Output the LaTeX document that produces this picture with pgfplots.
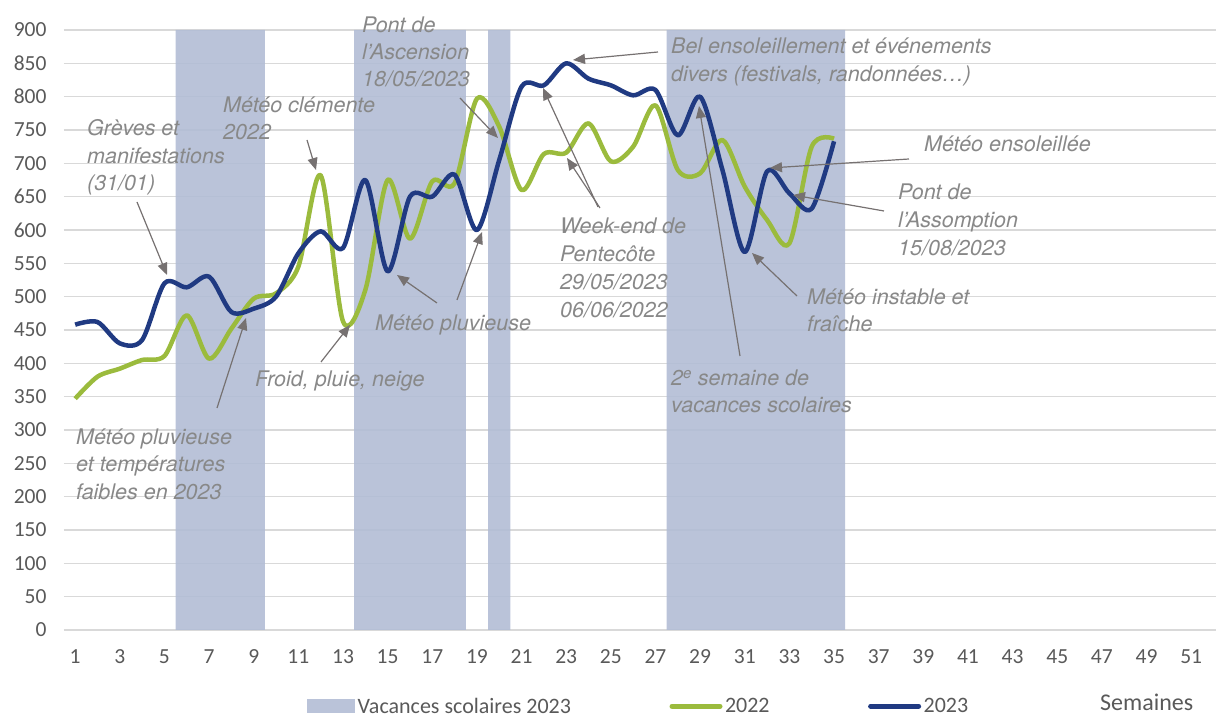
\documentclass[border=0pt]{standalone}
\usepackage{fontspec}
\setmainfont{Carlito}
\newfontfamily\annofont{TeX Gyre Heros}
\usepackage{pgfplots}
\pgfplotsset{compat=1.18}
\usetikzlibrary{arrows.meta}
\definecolor{band}{RGB}{178,189,213}
\definecolor{gr}{RGB}{155,187,61}
\definecolor{bl}{RGB}{32,58,130}
\definecolor{ann}{RGB}{136,136,136}
\definecolor{arr}{RGB}{118,113,113}
\definecolor{tickc}{RGB}{89,89,89}
\definecolor{gridc}{RGB}{217,217,217}
\begin{document}
\begin{tikzpicture}[
  anno/.style={font=\annofont\itshape\fontsize{21.5}{26}\selectfont, text=ann, inner sep=0pt, anchor=base west},
  arw/.style={draw=arr, line width=1.2pt, -{Triangle[length=12pt,width=10pt]}}]
\useasboundingbox (-64pt,-87pt) rectangle (1152pt,630pt);
\begin{axis}[
  x=22.32pt, y=0.666667pt,
  xmin=0.5, xmax=52.1, ymin=0, ymax=900,
  clip=false,
  axis line style={draw=none},
  major tick length=0pt,
  xtick={1,3,...,51},
  ytick={0,50,...,900},
  ymajorgrids, grid style={draw=gridc, line width=1.3pt},
  tick label style={font=\fontsize{21.5}{25}\selectfont, text=tickc},
  /pgf/number format/assume math mode=true,
  yticklabel style={xshift=-14pt},
  xticklabel style={yshift=-16pt},
  legend style={at={(0.211,-0.127)}, anchor=west, draw=none, fill=none, inner sep=0pt,
    font=\fontsize{22}{25}\selectfont, text=tickc, nodes={inner sep=2.5pt},
    /tikz/every even column/.append style={column sep=96pt}},
  legend columns=3,
  legend cell align=left,
]
\addplot[ybar, bar width=1, bar shift=0pt, fill=band, fill opacity=0.9, draw=none,
  legend image code/.code={\fill[band, fill opacity=0.9] (0pt,-7pt) rectangle (48pt,7pt);}]
  coordinates {(6,900)(7,900)(8,900)(9,900)(14,900)(15,900)(16,900)(17,900)(18,900)(20,900)
  (28,900)(29,900)(30,900)(31,900)(32,900)(33,900)(34,900)(35,900)};
\addplot[gr, line width=4.5pt, smooth, tension=0.5, line join=round,
  legend image code/.code={\draw[gr, line width=5pt, line cap=round] (0pt,0pt) -- (48pt,0pt);}]
  coordinates {(1,347)(2,380)(3,392)(4,405)(5,411)(6,472)(7,407)(8,452)(9,497)(10,505)
  (11,545)(12,682)(13,463)(14,510)(15,675)(16,587)(17,673)(18,670)(19,797)(20,755)
  (21,660)(22,714)(23,716)(24,760)(25,703)(26,725)(27,787)(28,690)(29,685)(30,735)
  (31,665)(32,615)(33,580)(34,725)(35,737)};
\addplot[bl, line width=4.5pt, smooth, tension=0.5, line join=round,
  legend image code/.code={\draw[bl, line width=5pt, line cap=round] (0pt,0pt) -- (48pt,0pt);}]
  coordinates {(1,458)(2,462)(3,430)(4,435)(5,520)(6,514)(7,530)(8,477)(9,482)(10,500)
  (11,565)(12,598)(13,573)(14,675)(15,538)(16,650)(17,650)(18,683)(19,600)(20,705)
  (21,815)(22,817)(23,850)(24,827)(25,817)(26,802)(27,810)(28,742)(29,800)(30,690)
  (31,567)(32,688)(33,655)(34,632)(35,733)};
\legend{Vacances scolaires 2023, 2022, 2023}

\node[anno] at (axis cs:1.530,741) {Grèves et};
\node[anno] at (axis cs:1.530,699) {manifestations};
\node[anno] at (axis cs:1.530,658.5) {(31/01)};
\draw[arw] (axis cs:3.771,642) -- (axis cs:5.115,532.5);

\node[anno] at (axis cs:7.624,775.5) {Météo clémente};
\node[anno] at (axis cs:7.624,735) {2022};
\draw[arw] (axis cs:11.387,735) -- (axis cs:11.790,690);

\node[anno] at (axis cs:13.851,896) {Pont de};
\node[anno] at (axis cs:13.851,856) {l’Ascension};
\node[anno] at (axis cs:13.851,815) {18/05/2023};
\draw[arw] (axis cs:18.242,798) -- (axis cs:19.944,738);

\node[anno] at (axis cs:27.695,864) {Bel ensoleillement et événements};
\node[anno] at (axis cs:27.695,822) {divers (festivals, randonnées…)};
\draw[arw] (axis cs:27.113,867) -- (axis cs:23.305,855);

\node[anno] at (axis cs:22.722,594) {Week-end de};
\node[anno] at (axis cs:22.722,552) {Pentecôte};
\node[anno] at (axis cs:22.722,510) {29/05/2023};
\node[anno] at (axis cs:22.722,468) {06/06/2022};
\draw[arw] (axis cs:24.425,634.5) -- (axis cs:21.960,813);
\draw[arw] (axis cs:24.514,633) -- (axis cs:23.036,708);

\node[anno] at (axis cs:14.434,448.5) {Météo pluvieuse};
\draw[arw] (axis cs:17.211,490.5) -- (axis cs:15.419,532.5);
\draw[arw] (axis cs:18.107,495) -- (axis cs:19.228,597);

\node[anno] at (axis cs:9.057,364.5) {Froid, pluie, neige};
\draw[arw] (axis cs:12.014,402) -- (axis cs:13.313,457.5);

\node[anno] at (axis cs:1.038,277.5) {Météo pluvieuse};
\node[anno] at (axis cs:1.038,237) {et températures};
\node[anno] at (axis cs:1.038,195) {faibles en 2023};
\draw[arw] (axis cs:7.355,333) -- (axis cs:8.654,468);

\node[anno] at (axis cs:39.03,717) {Météo ensoleillée};
\draw[arw] (axis cs:38.358,706.5) -- (axis cs:32.131,693);

\node[anno] at (axis cs:37.866,645) {Pont de};
\node[anno] at (axis cs:37.866,603) {l’Assomption};
\node[anno] at (axis cs:37.866,561) {15/08/2023};
\draw[arw] (axis cs:37.238,628.5) -- (axis cs:33.161,652.5);

\node[anno] at (axis cs:33.788,487.5) {Météo instable et};
\node[anno] at (axis cs:33.788,447) {fraîche};
\draw[arw] (axis cs:33.340,501) -- (axis cs:31.324,565.5);

\node[anno] at (axis cs:27.695,366) {2\textsuperscript{e} semaine de};
\node[anno] at (axis cs:27.695,325.5) {vacances scolaires};
\draw[arw] (axis cs:30.787,411) -- (axis cs:28.950,786);

\node[font=\fontsize{24}{28}\selectfont, text=tickc, anchor=base west, inner sep=0pt]
  at (axis cs:46.915,-121) {Semaines};
\end{axis}
\end{tikzpicture}
\end{document}
